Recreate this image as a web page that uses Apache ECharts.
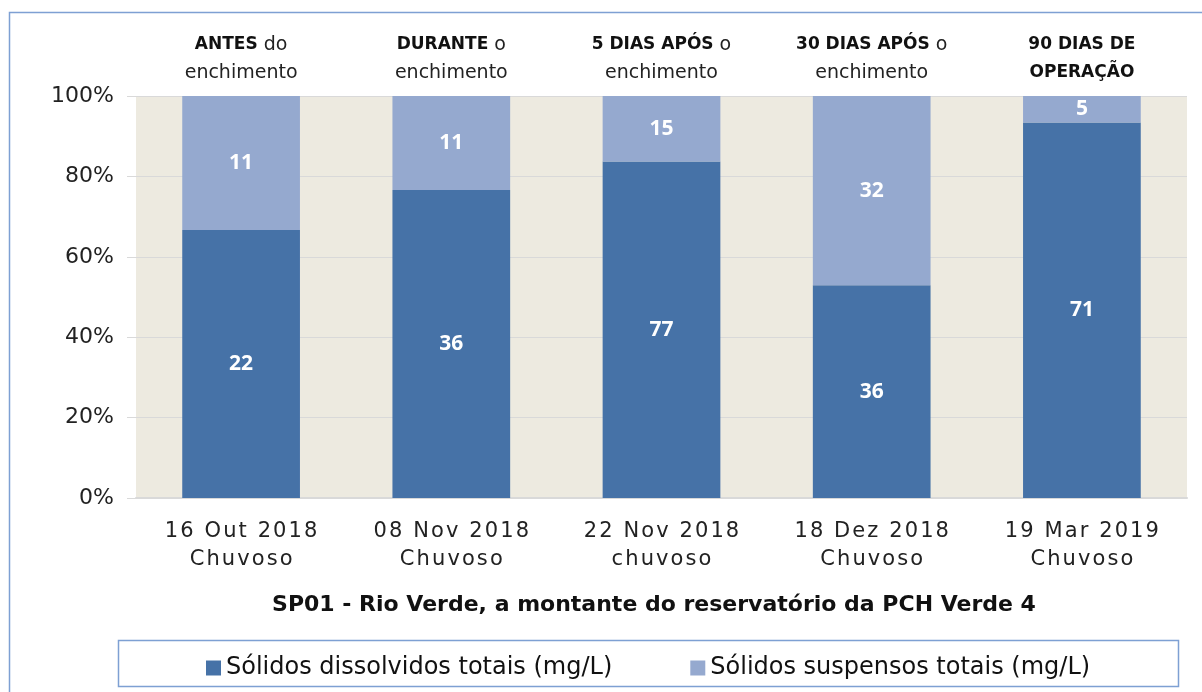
<!DOCTYPE html>
<html>
<head>
<meta charset="utf-8">
<script src="https://cdn.jsdelivr.net/npm/echarts@6/dist/echarts.min.js"></script>
<style>html,body{margin:0;padding:0;background:#fff}#c{width:1202px;height:692px}</style>
</head>
<body>
<div id="c"></div>
<script>
const categories = ['16 Out 2018\nChuvoso', '08 Nov 2018\nChuvoso', '22 Nov 2018\nchuvoso', '18 Dez 2018\nChuvoso', '19 Mar 2019\nChuvoso'];
const phaseBold = ['ANTES', 'DURANTE', '5 DIAS APÓS', '30 DIAS APÓS', '90 DIAS DE'];
const phaseRest1 = [' do', ' o', ' o', ' o', ''];
const phaseLine2 = ['enchimento', 'enchimento', 'enchimento', 'enchimento', 'OPERAÇÃO'];
const phaseLine2Bold = [false, false, false, false, true];
const dissolved = [22, 36, 77, 36, 71];
const suspended = [11, 11, 15, 32, 5];
const seriesNames = ['Sólidos dissolvidos totais (mg/L)', 'Sólidos suspensos totais (mg/L)'];
const yTicks = [0, 20, 40, 60, 80, 100];
const chartTitle = 'SP01 - Rio Verde, a montante do reservatório da PCH Verde 4';

const FONT = 'DejaVu Sans';
const totals = dissolved.map((d, i) => d + suspended[i]);
const pctD = dissolved.map((d, i) => ({ value: d / totals[i] * 100, raw: d }));
const pctS = suspended.map((s, i) => ({ value: s / totals[i] * 100, raw: s }));
const spaced = s => s.split('\n').map(l => l.split('').join('\u200A')).join('\n');

const chart = echarts.init(document.getElementById('c'));
chart.setOption({
  animation: false,
  backgroundColor: '#fff',
  grid: { left: 136, right: 15, top: 96, bottom: 194, show: true, backgroundColor: '#EDEAE0', borderWidth: 0 },
  xAxis: [{
    type: 'category', data: categories, position: 'bottom',
    axisLine: { lineStyle: { color: '#D9D9D9', width: 2 } },
    axisTick: { show: false },
    axisLabel: { interval: 0, fontFamily: FONT, fontSize: 21, color: '#222', lineHeight: 28, margin: 20, formatter: v => spaced(v) }
  }, {
    type: 'category', data: categories.map((c, i) => i), position: 'top',
    axisLine: { show: false }, axisTick: { show: false },
    axisLabel: {
      interval: 0, margin: 9, fontFamily: FONT, fontSize: 19, color: '#111', lineHeight: 28,
      formatter: (v) => {
        const i = +v;
        let s = '{b|' + phaseBold[i] + '}' + (phaseRest1[i] ? '{n|' + phaseRest1[i] + '}' : '');
        s += '\n' + (phaseLine2Bold[i] ? '{b|' + phaseLine2[i] + '}' : '{n|' + phaseLine2[i] + '}');
        return s;
      },
      rich: {
        b: { fontFamily: FONT, fontWeight: 'bold', fontSize: 17, color: '#111', lineHeight: 28 },
        n: { fontFamily: FONT, fontSize: 19, color: '#222', lineHeight: 28 }
      }
    }
  }],
  yAxis: {
    type: 'value', min: 0, max: 100, interval: 20,
    axisLine: { show: false },
    axisTick: { show: true, length: 9, lineStyle: { color: '#D9D9D9' } },
    splitLine: { lineStyle: { color: '#D9D9D9', width: 1 } },
    axisLabel: { fontFamily: FONT, fontSize: 22, color: '#222', margin: 22, formatter: v => yTicks.includes(v) ? v + '%' : '' }
  },
  legend: {
    left: 201, top: 651, itemWidth: 15, itemHeight: 15, itemGap: 78,
    icon: 'rect',
    textStyle: { fontFamily: FONT, fontSize: 24, color: '#111' },
    data: seriesNames
  },
  graphic: [
    { type: 'rect', shape: { x: 9.5, y: 12.5, width: 1200, height: 700 }, style: { fill: 'none', stroke: '#7EA0D3', lineWidth: 1.5 }, silent: true, z: -1 },
    { type: 'rect', shape: { x: 118.5, y: 640.5, width: 1060, height: 46 }, style: { fill: 'none', stroke: '#7EA0D3', lineWidth: 1.5 }, silent: true },
    { type: 'text', x: 654, y: 605, style: { text: chartTitle, fontFamily: FONT, fontWeight: 'bold', fontSize: 22, fill: '#111', textAlign: 'center', textVerticalAlign: 'middle' } }
  ],
  series: [{
    name: seriesNames[0], type: 'bar', stack: 'a', data: pctD, barCategoryGap: '44%',
    itemStyle: { color: '#4672A7' },
    label: { show: true, position: 'inside', formatter: p => p.data.raw, fontFamily: 'Open Sans', fontWeight: 'bold', fontSize: 21, color: '#fff' }
  }, {
    name: seriesNames[1], type: 'bar', stack: 'a', data: pctS, barCategoryGap: '44%',
    itemStyle: { color: '#95A9CF' },
    label: { show: true, position: 'inside', formatter: p => p.data.raw, fontFamily: 'Open Sans', fontWeight: 'bold', fontSize: 21, color: '#fff' }
  }]
});
</script>
</body>
</html>
